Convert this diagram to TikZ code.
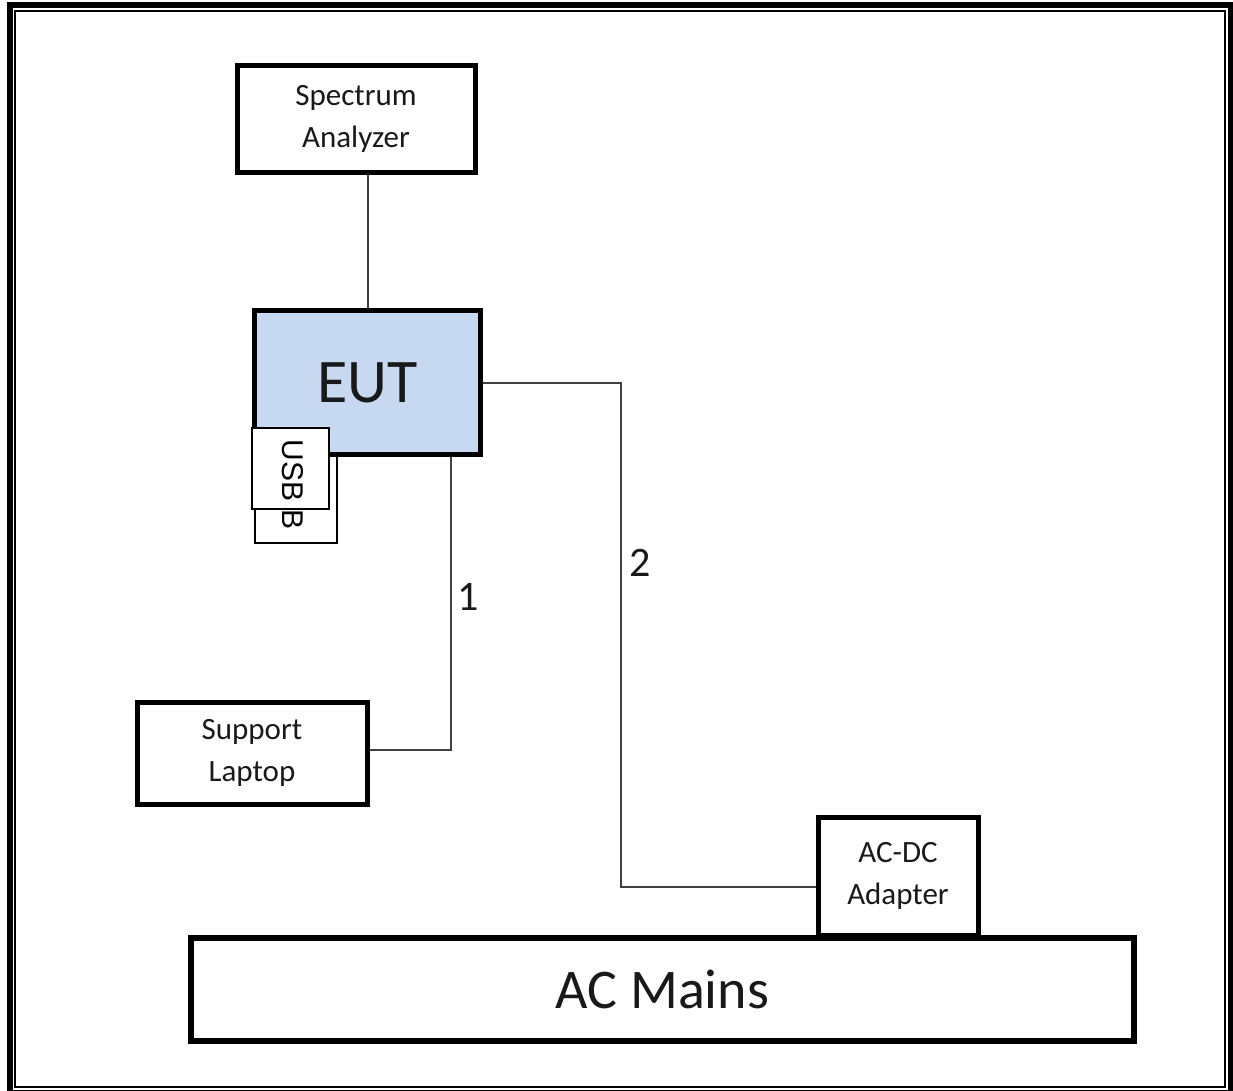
\documentclass[tikz,border=0pt]{standalone}
\usepackage{fontspec}
\setmainfont{Carlito}
\newfontfamily\usbfont{Liberation Sans}
\usetikzlibrary{positioning}
\definecolor{eutblue}{RGB}{198,217,241}
\definecolor{linegray}{RGB}{64,64,64}
\tikzset{
	box/.style={draw, line width=5pt, align=center, inner sep=0pt, text=black!90, font=\fontsize{31}{42}\selectfont},
	link/.style={draw=linegray, line width=2pt},
	tag/.style={inner sep=0pt, text=black!90, font=\fontsize{42}{42}\selectfont},
}

\begin{document}
\begin{tikzpicture}[x=1pt,y=-1pt]
	\useasboundingbox (0,0) rectangle (1233,1090);
	\draw[line width=6pt] (9.5,4.5) rectangle (1231,1093);
	\draw[line width=2pt] (15,10.5) rectangle (1224.5,1087);

	\node[box, minimum width=238pt, minimum height=107pt] (SA) at (356,118.5) {Spectrum\\Analyzer};
	\node[draw, line width=1.2pt, minimum width=82pt, minimum height=115pt] (usbback) at (296,485.5) {};
	\node[box, fill=eutblue, minimum width=226pt, minimum height=144pt, font=\fontsize{62}{70}\selectfont] (EUT) at (367.5,382.5) {EUT};
	\node[draw, fill=white, line width=1.2pt, minimum width=77pt, minimum height=81pt] (usbfront) at (290.5,468.5) {};
	\node[inner sep=0pt, rotate=-90, font=\usbfont\fontsize{30}{30}\selectfont] (usb) at (293,485) {USB B};

	\node[box, minimum width=230pt, minimum height=102pt] (Laptop) at (252,753) {Support\\Laptop};
	\node[box, minimum width=160pt, minimum height=118pt] (Adapter) at (898,876) {AC-DC\\Adapter};
	\node[box, line width=6pt, minimum width=943pt, minimum height=103pt, font=\fontsize{56}{60}\selectfont] (Mains) at (662.5,989.5) {AC Mains};

	\draw[link] (EUT.north) -- (EUT.north |- SA.south);

	\coordinate (c1) at (451,750);
	\draw[link] (EUT.south -| c1) -- (c1) -- (c1 -| Laptop.east);
	\node[tag] (n1) at (468,597) {1};

	\coordinate (c2) at (621,887);
	\draw[link] (EUT.east) -| (c2) -- (c2 -| Adapter.west);
	\node[tag] (n2) at (640,563) {2};
\end{tikzpicture}
\end{document}
